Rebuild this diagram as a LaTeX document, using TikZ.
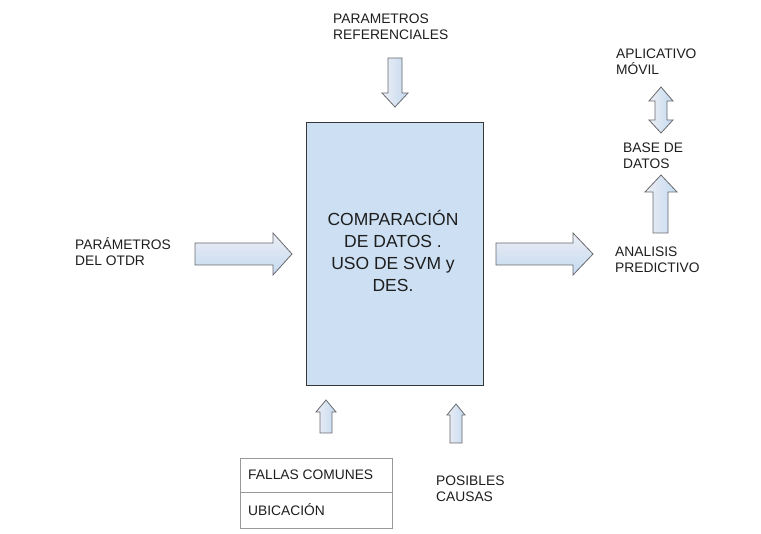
\documentclass[tikz,border=0pt]{standalone}
\usepackage{fontspec}
\setmainfont{Liberation Sans}
\definecolor{boxfill}{RGB}{205,224,243}
\definecolor{boxline}{RGB}{55,55,55}
\definecolor{arrline}{RGB}{105,105,110}
\definecolor{arrtop}{RGB}{236,238,244}
\definecolor{arrbot}{RGB}{196,218,240}
\definecolor{txt}{RGB}{30,30,30}
\tikzset{
  lbl/.style={anchor=west, inner sep=0pt, align=left, font=\fontsize{13.8}{16.5}\selectfont, text=txt},
  harr/.style={draw=arrline, line width=0.8pt, top color=arrtop, bottom color=arrbot, line join=miter},
  varr/.style={draw=arrline, line width=0.8pt, left color=arrtop, right color=arrbot, line join=miter},
}
\begin{document}
\begin{tikzpicture}[x=1pt,y=-1pt]
\useasboundingbox[fill=white] (0,0) rectangle (761,534);
% main box
\node[draw=boxline, fill=boxfill, line width=0.9pt, minimum width=177pt, minimum height=263pt, inner sep=0pt] (main) at (394.5,253.5) {};
\node[inner sep=0pt, align=center, font=\fontsize{17.5}{22}\selectfont, text=txt] (maintxt) at (393,251) {COMPARACIÓN\\DE DATOS .\\USO DE SVM y\\DES.};
% labels
\node[lbl] (ref) at (333,27) {PARAMETROS\\REFERENCIALES};
\node[lbl] (otdr) at (75,251.5) {PARÁMETROS\\DEL OTDR};
\node[lbl] (anal) at (615,260) {ANALISIS\\PREDICTIVO};
\node[lbl] (base) at (623,156) {BASE DE\\DATOS};
\node[lbl] (app) at (616,62) {APLICATIVO\\MÓVIL};
\node[lbl] (pos) at (436,489) {POSIBLES\\CAUSAS};
% table
\draw[draw=gray!80, line width=0.7pt] (240,458) rectangle (392,528);
\draw[draw=gray!80, line width=0.7pt] (240,492) -- (392,492);
\node[lbl] (fallas) at (248,475) {FALLAS COMUNES};
\node[lbl] (ubic) at (248,510) {UBICACIÓN};
% arrows
\path[harr] (195,243) -- (273,243) -- (273,233) -- (292,254) -- (273,275) -- (273,265) -- (195,265) -- cycle;
\path[harr] (496,243) -- (573,243) -- (573,233) -- (593,254) -- (573,275) -- (573,265) -- (496,265) -- cycle;
\path[varr] (388,58) -- (402,58) -- (402,93) -- (408,93) -- (395,107) -- (382,93) -- (388,93) -- cycle;
\path[varr] (653,233) -- (653,192) -- (645,192) -- (661,175) -- (677,192) -- (668,192) -- (668,233) -- cycle;
\path[varr] (661,87) -- (673,101) -- (667,101) -- (667,120) -- (673,120) -- (661,133) -- (649,120) -- (655,120) -- (655,101) -- (649,101) -- cycle;
\path[varr] (326,400) -- (336,412) -- (332,412) -- (332,433) -- (320,433) -- (320,412) -- (316,412) -- cycle;
\path[varr] (456,404) -- (465,415) -- (462,415) -- (462,443) -- (450,443) -- (450,415) -- (447,415) -- cycle;
\end{tikzpicture}
\end{document}
